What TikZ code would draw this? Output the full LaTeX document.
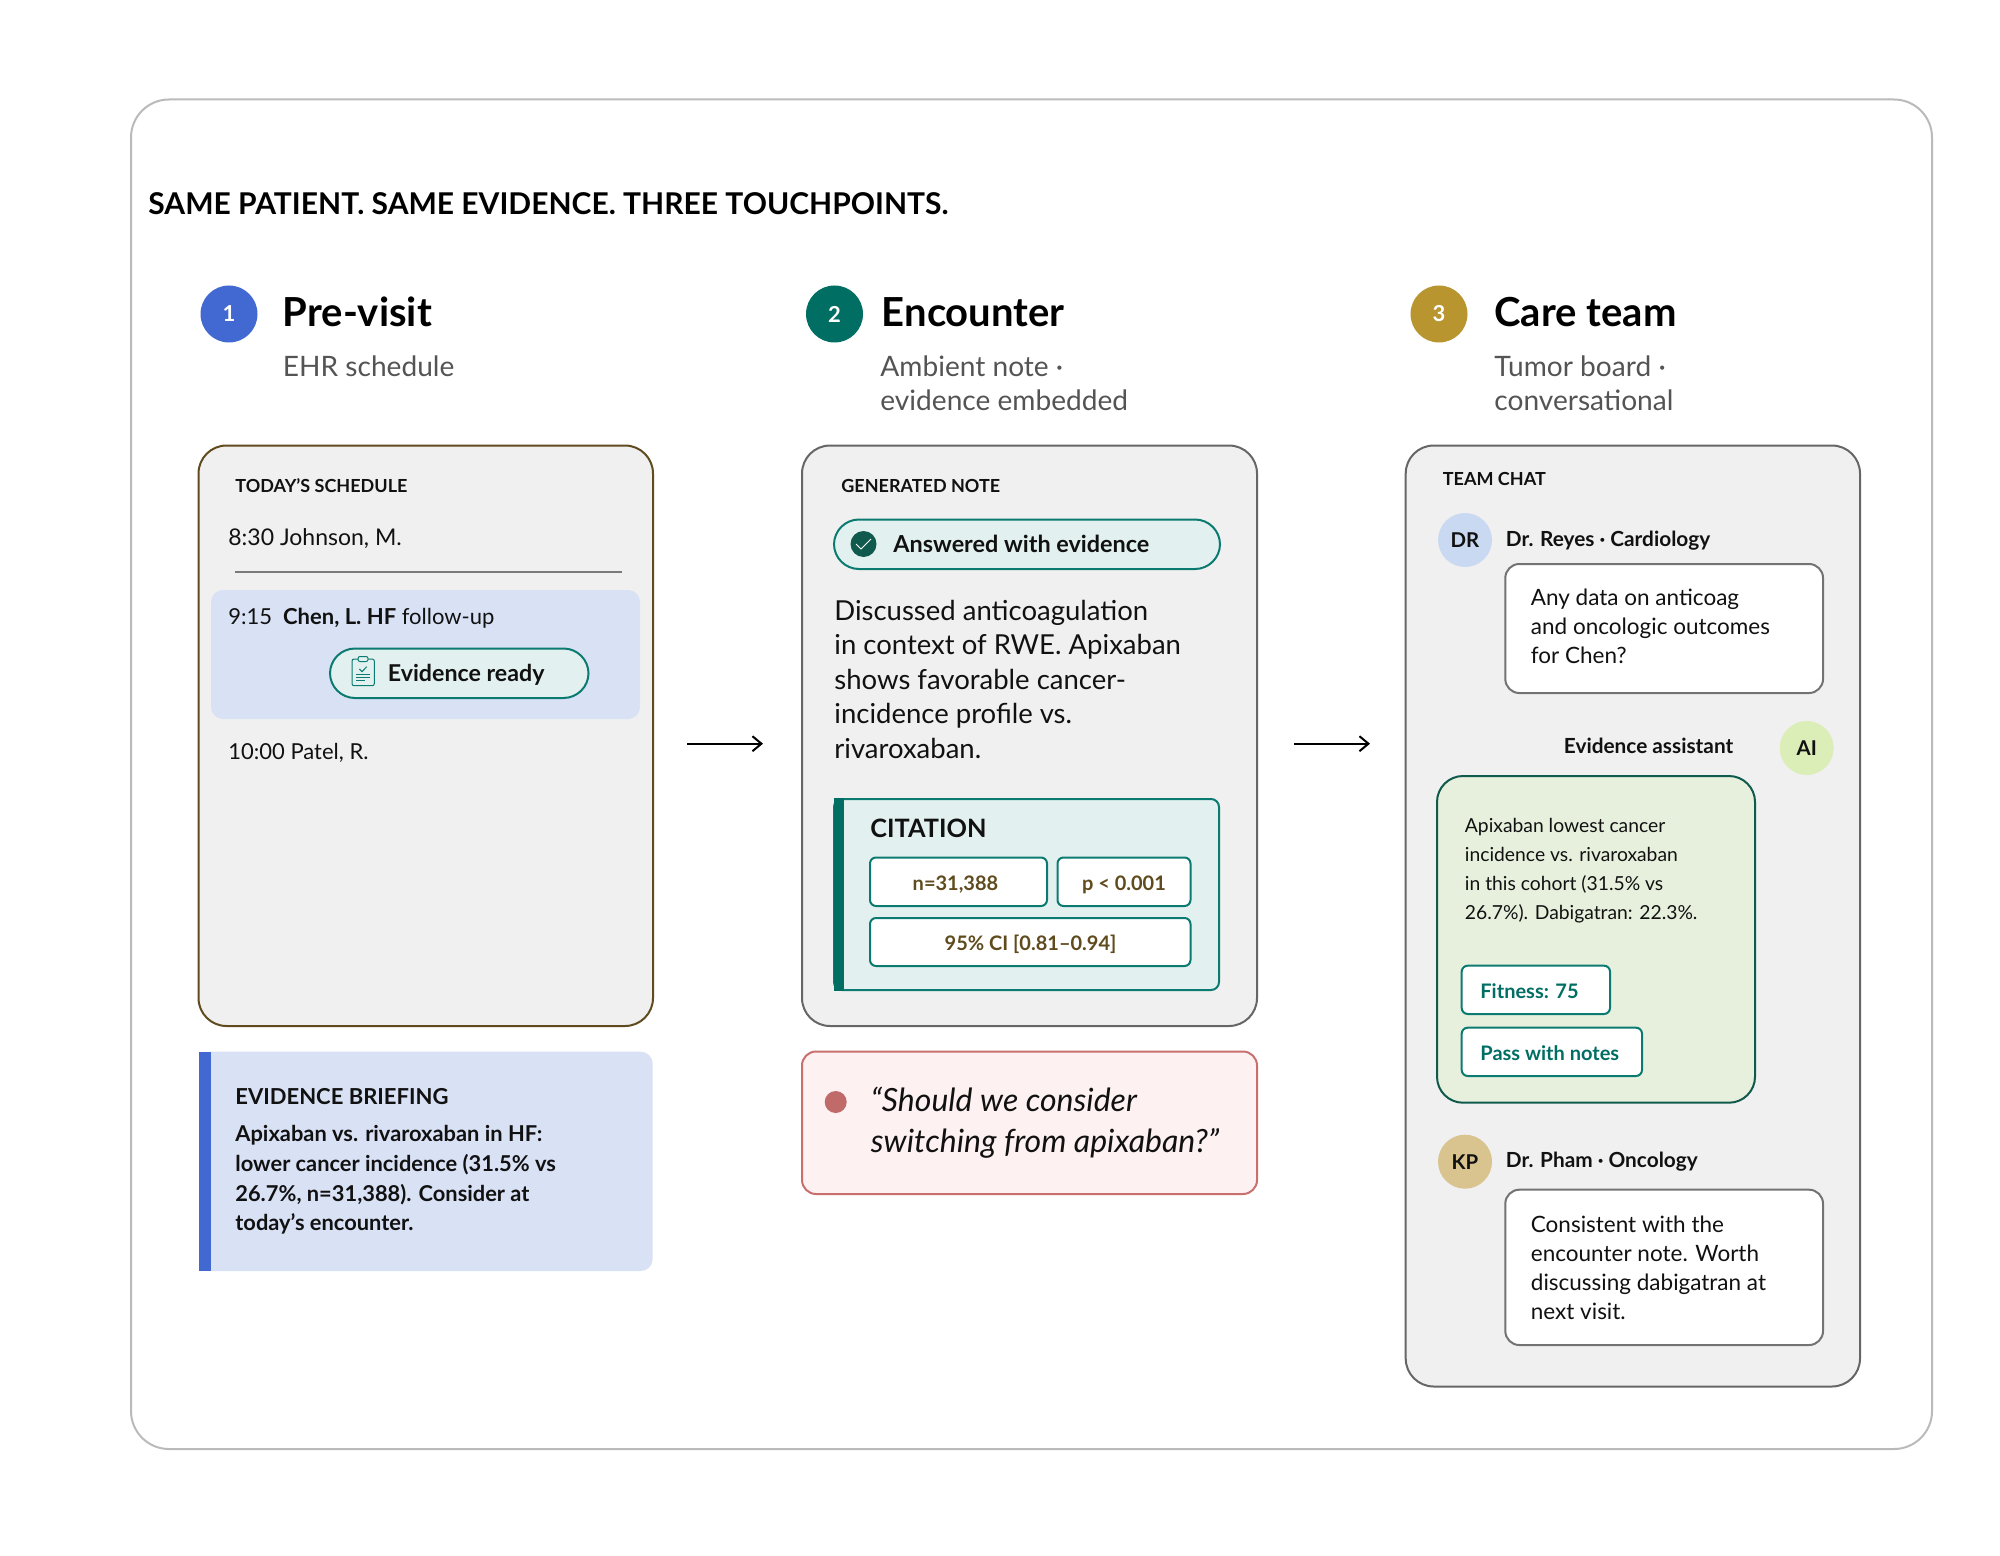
\documentclass[tikz,border=0pt]{standalone}
\usepackage{fontspec}
\setmainfont{Lato}
\usepackage{xcolor}
\usetikzlibrary{arrows.meta}
\definecolor{teal}{HTML}{006E63}
\definecolor{tealline}{HTML}{0B7A70}
\definecolor{tealtint}{HTML}{E2F1EF}
\definecolor{panelgrey}{HTML}{F0F0F0}
\definecolor{bluetint}{HTML}{D9E1F5}
\definecolor{bluemark}{HTML}{4169D1}
\definecolor{umber}{HTML}{5F4B1E}
\definecolor{gold}{HTML}{B8952F}
\definecolor{rosetint}{HTML}{FDF1F1}
\definecolor{roseline}{HTML}{C9706F}
\definecolor{rosedot}{HTML}{C06A6A}
\definecolor{leaf}{HTML}{E7F0DD}
\definecolor{pine}{HTML}{0F5A4C}
\definecolor{ink}{HTML}{111111}
\definecolor{faceblue}{HTML}{C9D9F1}
\definecolor{facegreen}{HTML}{DCEEB8}
\definecolor{facesand}{HTML}{D9C48F}

\begin{document}
\begin{tikzpicture}[x=0.5pt,y=-0.5pt,
    lbl/.style={anchor=base west,inner sep=0pt,text=ink,align=left},
    capline/.style={lbl,font=\bfseries\fontsize{9}{11}\selectfont},
    sched/.style={lbl,font=\fontsize{11.5}{14}\selectfont},
    head/.style={lbl,text=black,font=\bfseries\fontsize{20}{24}\selectfont},
    sub/.style={lbl,text=black!67,font=\fontsize{14.05}{17.25}\selectfont},
    num/.style={circle,inner sep=0pt,minimum size=28.5pt,text=white,font=\bfseries\fontsize{11}{13}\selectfont},
    face/.style={circle,inner sep=0pt,minimum size=27pt,text=ink,font=\bfseries\fontsize{10.2}{13}\selectfont},
    who/.style={lbl,font=\bfseries\fontsize{10.4}{13}\selectfont},
    panel/.style={fill=panelgrey,draw=black!60,line width=1pt,rounded corners=14pt},
    pill/.style={fill=tealtint,draw=tealline,line width=1pt,rounded corners=12.5pt},
    chip/.style={fill=white,draw=tealline,line width=1pt,rounded corners=3pt},
    bubble/.style={fill=white,draw=black!55,line width=1pt,rounded corners=7pt},
    chipval/.style={inner sep=0pt,anchor=base,text=umber,font=\bfseries\fontsize{10}{12}\selectfont},
    chiptag/.style={lbl,text=teal,font=\bfseries\fontsize{10}{12}\selectfont},
    flow/.style={line width=1pt,-{Straight Barb[length=4.5pt,width=7.5pt]}}]
    \useasboundingbox (0,0) rectangle (2000,1556);

    % outer frame and title
    \draw[black!27,line width=1pt,rounded corners=19pt] (131,99.5) rectangle (1932,1449);
    \node[lbl,text=black,font=\bfseries\fontsize{15}{17}\selectfont] (title) at (148,214.5) {SAME PATIENT. SAME EVIDENCE. THREE TOUCHPOINTS.};

    % column heads
    \node[num,fill=bluemark] (numA) at (229,314) {1};
    \node[head] (headA) at (282.5,327) {Pre-visit};
    \node[sub] (subA) at (282.5,376) {EHR schedule};
    \node[num,fill=teal] (numB) at (834.5,314) {2};
    \node[head] (headB) at (881.5,327) {Encounter};
    \node[sub] (subB) at (880,410.5) {Ambient note ·\\evidence embedded};
    \node[num,fill=gold] (numC) at (1439,314) {3};
    \node[head] (headC) at (1494,327) {Care team};
    \node[sub] (subC) at (1494,410.5) {Tumor board ·\\conversational};

    % schedule panel
    \draw[panel,draw=umber] (198.5,445.5) rectangle (653,1026);
    \node[capline] (schedCap) at (235,492.5) {TODAY’S SCHEDULE};
    \node[sched] (slotA) at (228,545) {8:30 Johnson, M.};
    \draw[black!52,line width=1.25pt] (235,572) -- (622,572);
    \fill[bluetint,rounded corners=6pt] (211,590) rectangle (640,719);
    \node[sched,font=\fontsize{11}{14}\selectfont] (slotB) at (228,624) {9:15\hspace{0.5em}{\bfseries Chen, L. HF} follow-up};
    \draw[pill] (330,648.5) rectangle (588.5,698);
    \node[lbl,font=\bfseries\fontsize{11.6}{14}\selectfont] (ready) at (387.5,681) {Evidence ready};
    % clipboard
    \draw[tealline,line width=0.5pt,rounded corners=1pt] (352,659) rectangle (374.3,685.7);
    \draw[tealline,line width=0.5pt,fill=tealtint,rounded corners=1pt] (358,656.5) rectangle (368,661.5);
    \draw[tealline,line width=0.5pt] (359.3,669) -- (362,671.7) -- (366.7,666.7);
    \draw[tealline,line width=0.5pt] (356,674.3) -- (370,674.3) (356,677.3) -- (370,677.3) (356,680.3) -- (365,680.3);
    \node[sched,font=\fontsize{11}{14}\selectfont] (slotC) at (228,759) {10:00 Patel, R.};

    % briefing
    \fill[bluetint,rounded corners=6pt] (199,1051.7) rectangle (652.7,1271);
    \fill[bluemark] (199,1051.7) rectangle (211.3,1271);
    \node[lbl,font=\bfseries\fontsize{11}{14}\selectfont] (briefCap) at (235,1104.5) {EVIDENCE BRIEFING};
    \node[lbl,font=\bfseries\fontsize{10.92}{14.85}\selectfont] (brief) at (235,1230.7) {Apixaban vs. rivaroxaban in HF:\\lower cancer incidence (31.5\% vs\\26.7\%, n=31,388). Consider at\\today’s encounter.};

    % note panel
    \draw[panel] (802,445.5) rectangle (1257,1026);
    \node[capline] (noteCap) at (841,492.5) {GENERATED NOTE};
    \draw[pill] (834,519.5) rectangle (1220,569);
    \node[circle,fill=pine,inner sep=0pt,minimum size=13pt] (tick) at (863.5,544) {};
    \draw[white,line width=0.5pt] (856,544) -- (861,549) -- (871,539);
    \node[lbl,font=\bfseries\fontsize{11.7}{14}\selectfont] (answered) at (893,552) {Answered with evidence};
    \node[lbl,font=\fontsize{13.75}{17.25}\selectfont] (noteText) at (834,758) {Discussed anticoagulation\\in context of RWE. Apixaban\\shows favorable cancer-\\incidence profile vs.\\rivaroxaban.};

    % citation
    \draw[fill=tealtint,draw=tealline,line width=1pt,rounded corners=4pt] (834,799) rectangle (1219,990);
    \fill[teal] (834,798) rectangle (844,991);
    \node[lbl,font=\bfseries\fontsize{12.65}{15}\selectfont] (citeCap) at (870,837.5) {CITATION};
    \draw[chip] (870,857.5) rectangle (1047,906);
    \node[chipval] (citeN) at (955.5,890.5) {n=31,388};
    \draw[chip] (1057.5,857.5) rectangle (1190.5,906);
    \node[chipval] (citeP) at (1124,890.5) {p < 0.001};
    \draw[chip] (870,918) rectangle (1190.5,966);
    \node[chipval] (citeCI) at (1030.5,950) {95\% CI [0.81–0.94]};

    % quote
    \draw[fill=rosetint,draw=roseline,line width=1pt,rounded corners=7pt] (802,1051.5) rectangle (1257,1194);
    \node[circle,fill=rosedot,inner sep=0pt,minimum size=11pt] (quoteDot) at (835.7,1102) {};
    \node[lbl,font=\itshape\fontsize{16}{20.4}\selectfont] (quote) at (870.5,1152) {“Should we consider\\switching from apixaban?”};

    % chat panel
    \draw[panel] (1405.7,445.5) rectangle (1860,1386.5);
    \node[capline] (chatCap) at (1442.5,485) {TEAM CHAT};
    \node[face,fill=faceblue] (faceDR) at (1465,540) {DR};
    \node[who] (whoDR) at (1505.5,546) {Dr. Reyes · Cardiology};
    \draw[bubble] (1505.3,564) rectangle (1823,693);
    \node[lbl,font=\fontsize{11.25}{14.5}\selectfont] (msgDR) at (1530.5,663) {Any data on anticoag\\and oncologic outcomes\\for Chen?};
    \node[who] (whoAI) at (1563.5,753) {Evidence assistant};
    \node[face,fill=facegreen] (faceAI) at (1806.7,748) {AI};
    \draw[fill=leaf,draw=pine,line width=1pt,rounded corners=13pt] (1437,776) rectangle (1755,1102.7);
    \node[lbl,font=\fontsize{9.65}{14.5}\selectfont] (msgAI) at (1464.5,919) {Apixaban lowest cancer\\incidence vs. rivaroxaban\\in this cohort (31.5\% vs\\26.7\%). Dabigatran: 22.3\%.};
    \draw[chip] (1461.7,965.7) rectangle (1610,1014);
    \node[chiptag] (tagFit) at (1480,998) {Fitness: 75};
    \draw[chip] (1461.7,1027.7) rectangle (1642,1076);
    \node[chiptag] (tagPass) at (1480,1060) {Pass with notes};
    \node[face,fill=facesand] (faceKP) at (1465,1161.7) {KP};
    \node[who] (whoKP) at (1505.5,1167.5) {Dr. Pham · Oncology};
    \draw[bubble] (1505.3,1189.7) rectangle (1823,1345);
    \node[lbl,font=\fontsize{11.25}{14.5}\selectfont] (msgKP) at (1530.5,1319) {Consistent with the\\encounter note. Worth\\discussing dabigatran at\\next visit.};

    % arrows between panels
    \coordinate (flowA) at (687,743.7);
    \coordinate (flowAend) at (763,743.7);
    \coordinate (flowB) at (1294,743.7);
    \coordinate (flowBend) at (1370,743.7);
    \draw[flow] (flowA) -- (flowAend);
    \draw[flow] (flowB) -- (flowBend);
\end{tikzpicture}
\end{document}
